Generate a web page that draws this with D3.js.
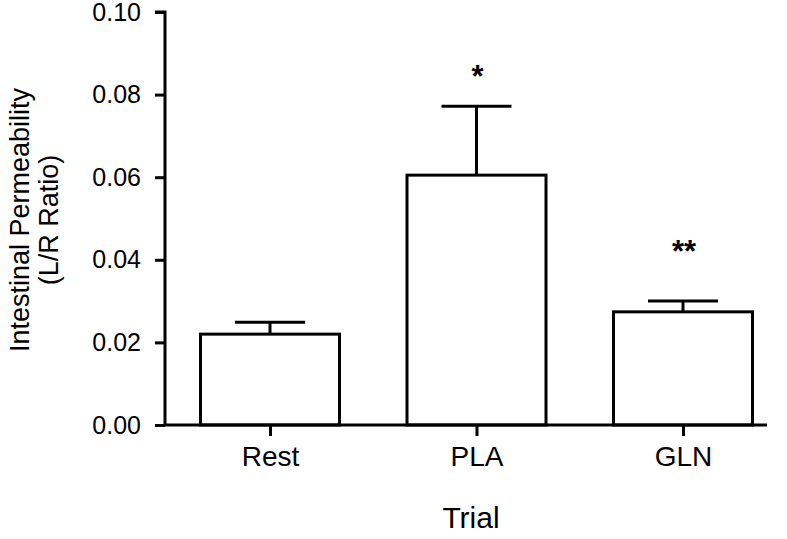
<!DOCTYPE html>
<html>
<head>
<meta charset="utf-8">
<script src="https://cdn.jsdelivr.net/npm/d3@7"></script>
<style>
  body { margin: 0; background: #fff; }
  text { font-family: Arial, "Liberation Sans", sans-serif; fill: #000; }
</style>
</head>
<body>
<div id="chart"></div>
<script>
// data
categories = ['Rest', 'PLA', 'GLN'];
means = [0.0220, 0.0605, 0.0274];
errors = [0.0029, 0.0167, 0.0026];
marks = ['', '*', '**'];
markLevels = [0, 0.0857, 0.0433];
yTicks = [0.00, 0.02, 0.04, 0.06, 0.08, 0.10];

w = 787;
h = 539;
axis_x = 165;
axis_right = 767;
bar_w = 139;
cap_w = 70;
font = 'Arial, "Liberation Sans", sans-serif';

svg = d3.select('#chart')
  .append('svg')
  .attr('width', w)
  .attr('height', h);

y = d3.scaleLinear().domain([0, 0.1]).range([425, 12]);
x = d3.scalePoint().domain(categories).range([270, 683]);

// bars
svg.selectAll('rect.bar')
  .data(categories)
  .enter()
  .append('rect')
  .attr('class', 'bar')
  .attr('x', function (d) { return x(d) - bar_w/2; })
  .attr('y', function (d, i) { return y(means[i]); })
  .attr('width', bar_w)
  .attr('height', function (d, i) { return y(0) - y(means[i]); })
  .attr('fill', 'none')
  .attr('stroke', '#000')
  .attr('stroke-width', 3);

// error bars (upper only)
svg.selectAll('line.err')
  .data(categories)
  .enter()
  .append('line')
  .attr('x1', function (d) { return x(d); })
  .attr('x2', function (d) { return x(d); })
  .attr('y1', function (d, i) { return y(means[i]); })
  .attr('y2', function (d, i) { return y(means[i] + errors[i]); })
  .attr('stroke', '#000')
  .attr('stroke-width', 3);

svg.selectAll('line.cap')
  .data(categories)
  .enter()
  .append('line')
  .attr('x1', function (d) { return x(d) - cap_w/2; })
  .attr('x2', function (d) { return x(d) + cap_w/2; })
  .attr('y1', function (d, i) { return y(means[i] + errors[i]); })
  .attr('y2', function (d, i) { return y(means[i] + errors[i]); })
  .attr('stroke', '#000')
  .attr('stroke-width', 3);

// significance marks
svg.selectAll('text.mark')
  .data(categories)
  .enter()
  .append('text')
  .attr('x', function (d) { return x(d) + 1; })
  .attr('y', function (d, i) { return y(markLevels[i]) + 16; })
  .attr('text-anchor', 'middle')
  .attr('font-size', 31)
  .attr('font-weight', 'bold')
  .text(function (d, i) { return marks[i]; });

// y axis
yAxis = d3.axisLeft(y)
  .tickValues(yTicks)
  .tickFormat(d3.format('.2f'))
  .tickSize(10)
  .tickPadding(14);

gy = svg.append('g')
  .attr('transform', 'translate(' + axis_x + ',0)')
  .call(yAxis);
gy.selectAll('path, line').attr('stroke', '#000').attr('stroke-width', 3);
gy.select('.domain').attr('d', 'M-10,' + y(0.1) + 'H0V' + y(0));
gy.selectAll('text').attr('font-size', 25).attr('font-family', font).attr('fill', '#000');

// x axis
xAxis = d3.axisBottom(x).tickSize(11).tickPadding(9);
gx = svg.append('g')
  .attr('transform', 'translate(0,' + y(0) + ')')
  .call(xAxis);
gx.selectAll('path, line').attr('stroke', '#000').attr('stroke-width', 3);
gx.select('.domain').attr('d', 'M' + axis_x + ',0H' + axis_right);
gx.selectAll('text')
  .attr('font-size', 28)
  .attr('font-family', font)
  .attr('fill', '#000')
  .attr('y', 41)
  .attr('dy', 0);

// axis titles
svg.append('text')
  .attr('x', 471)
  .attr('y', 528)
  .attr('text-anchor', 'middle')
  .attr('font-size', 30)
  .text('Trial');

svg.append('text')
  .attr('transform', 'translate(29,220) rotate(-90)')
  .attr('text-anchor', 'middle')
  .attr('font-size', 27)
  .text('Intestinal Permeability');

svg.append('text')
  .attr('transform', 'translate(58,220) rotate(-90)')
  .attr('text-anchor', 'middle')
  .attr('font-size', 27)
  .text('(L/R Ratio)');
</script>
</body>
</html>
